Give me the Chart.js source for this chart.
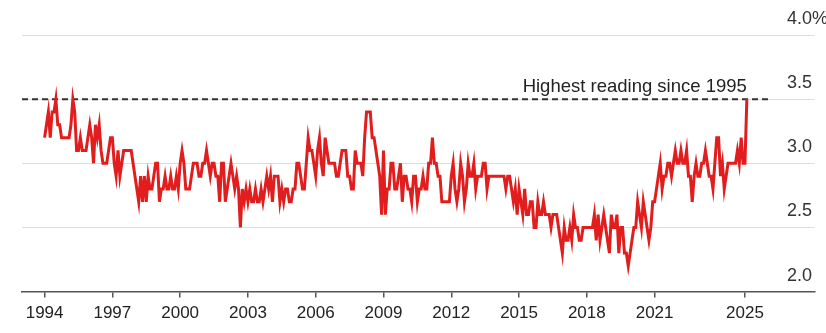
<!DOCTYPE html>
<html>
<head>
<meta charset="utf-8">
<script src="https://cdn.jsdelivr.net/npm/chart.js@4.4.1/dist/chart.umd.min.js"></script>
<style>
    html, body { margin: 0; padding: 0; background: #fff; }
    #box { width: 826px; height: 333px; }
</style>
</head>
<body>
<div id="box"><canvas id="expectChart"></canvas></div>
<script>
// Monthly readings, Jan 1994 onwards (percent)
const startYear = 1994;
const values1994to1999 = [
    3.2, 3.3, 3.4, 3.2, 3.4, 3.4, 3.5, 3.3, 3.3, 3.2, 3.2, 3.2,
    3.2, 3.2, 3.3, 3.5, 3.4, 3.1, 3.1, 3.2, 3.1, 3.1, 3.1, 3.2,
    3.3, 3.2, 3.0, 3.3, 3.2, 3.3, 3.1, 3.0, 3.0, 3.0, 3.1, 3.2,
    3.2, 3.0, 2.9, 3.1, 2.9, 3.0, 3.1, 3.1, 3.1, 3.1, 3.1, 3.0,
    2.9, 2.8, 2.7, 2.9, 2.7, 2.9, 2.7, 2.9, 2.8, 2.8, 2.9, 3.0,
    3.0, 2.7, 2.8, 2.8, 2.9, 2.8, 2.8, 2.9, 2.8, 2.8, 2.9, 2.8
];
const values2000to2004 = [
    3.0, 3.1, 3.0, 2.8, 2.8, 2.8, 2.9, 3.0, 3.0, 3.0, 2.9, 2.9,
    3.0, 3.0, 3.1, 3.0, 2.9, 3.0, 3.0, 2.9, 2.9, 2.7, 3.0, 3.0,
    2.7, 2.8, 2.9, 3.0, 2.9, 2.8, 2.9, 2.8, 2.5, 2.8, 2.7, 2.8,
    2.7, 2.8, 2.7, 2.7, 2.8, 2.7, 2.7, 2.8, 2.7, 2.8, 2.9, 2.8,
    2.9, 2.7, 2.9, 2.9, 2.9, 2.7, 2.8, 2.7, 2.8, 2.8, 2.7, 2.7
];
const values2005to2009 = [
    2.8, 2.8, 3.0, 3.0, 2.9, 2.8, 2.8, 3.0, 3.2, 3.1, 3.1, 3.0,
    2.9, 3.1, 3.2, 3.0, 2.9, 3.2, 3.1, 3.0, 3.0, 3.0, 3.0, 2.9,
    2.9, 3.0, 3.1, 3.1, 3.1, 2.9, 2.9, 2.8, 2.8, 3.1, 3.0, 3.0,
    3.0, 2.9, 3.2, 3.4, 3.4, 3.4, 3.2, 3.2, 3.1, 3.0, 2.9, 2.6,
    3.1, 2.6, 2.8, 2.8, 3.0, 3.0, 2.8, 2.8, 2.9, 3.0, 2.7, 2.9
];
const values2010to2014 = [
    2.9, 2.8, 2.8, 2.7, 2.9, 2.9, 2.7, 2.8, 2.8, 2.9, 2.8, 2.8,
    3.0, 3.0, 3.2, 3.0, 3.0, 2.9, 2.9, 2.7, 2.7, 2.7, 2.7, 2.7,
    2.9, 3.0, 2.8, 2.7, 2.8, 3.0, 2.9, 2.7, 2.8, 3.0, 2.9, 2.9,
    3.0, 2.8, 2.9, 2.9, 2.9, 3.0, 3.0, 2.8, 2.9, 2.9, 2.9, 2.9,
    2.9, 2.9, 2.9, 2.9, 2.9, 2.8, 2.9, 2.9, 2.8, 2.7, 2.8, 2.6
];
const values2015to2019 = [
    2.8, 2.7, 2.6, 2.8, 2.6, 2.6, 2.7, 2.7, 2.5, 2.5, 2.7, 2.6,
    2.6, 2.7, 2.6, 2.6, 2.6, 2.5, 2.6, 2.6, 2.6, 2.5, 2.4, 2.3,
    2.5, 2.4, 2.4, 2.5, 2.4, 2.6, 2.5, 2.5, 2.4, 2.4, 2.5, 2.5,
    2.5, 2.5, 2.5, 2.5, 2.6, 2.4, 2.6, 2.4, 2.5, 2.6, 2.5, 2.4,
    2.3, 2.6, 2.5, 2.5, 2.6, 2.3, 2.5, 2.5, 2.3, 2.3, 2.2, 2.3
];
const values2020to2025 = [
    2.4, 2.5, 2.5, 2.7, 2.6, 2.5, 2.7, 2.6, 2.5, 2.4, 2.5, 2.7,
    2.7, 2.8, 2.9, 3.0, 2.8, 2.9, 2.9, 3.0, 3.0, 2.9, 3.0, 3.1,
    3.0, 3.0, 3.1, 3.0, 3.0, 3.1, 2.9, 2.9, 2.7, 2.9, 3.0, 2.9,
    2.9, 3.0, 3.0, 3.1, 3.0, 2.9, 2.9, 2.8, 3.0, 3.2, 3.2, 2.9,
    3.0, 2.8, 2.9, 3.0, 3.0, 3.0, 3.0, 3.0, 3.1, 3.0, 3.2, 3.0,
    3.0, 3.5
];

// Axis ticks
const xTickYears = [1994, 1997, 2000, 2003, 2006, 2009, 2012, 2015, 2018, 2021, 2025];
const yTickValues = [2.0, 2.5, 3.0, 3.5, 4.0];

// Reference line
const highestReading = 3.5;
const highestLabel = "Highest reading since 1995";
const refLineEnd = 2026.1;

const xMin = 1993;
const xMax = 2028.1;

const allValues = [].concat(values1994to1999, values2000to2004, values2005to2009,
    values2010to2014, values2015to2019, values2020to2025);

const linePoints = allValues.map((v, i) => ({ x: startYear + i / 12, y: v }));
const lastPoint = linePoints[linePoints.length - 1];

// draws the "highest reading" note above the dashed line
const noteLabel = {
    id: "noteLabel",
    afterDatasetsDraw(chart) {
        const { ctx, scales } = chart;
        ctx.save();
        ctx.font = "18.5px 'Liberation Sans', Arial, sans-serif";
        ctx.fillStyle = "#222";
        ctx.textAlign = "right";
        ctx.textBaseline = "alphabetic";
        ctx.fillText(highestLabel, scales.x.getPixelForValue(lastPoint.x), scales.y.getPixelForValue(highestReading) - 7);
        ctx.restore();
    }
};

document.addEventListener("DOMContentLoaded", () => {
    const ctx = document.getElementById("expectChart").getContext("2d");

    new Chart(ctx, {
        type: "line",
        data: {
            datasets: [{
                data: linePoints,
                borderColor: "#e11d1d",
                borderWidth: 3,
                pointRadius: 0,
                tension: 0,
                order: 1
            }, {
                data: [{ x: xMin, y: highestReading }, { x: refLineEnd, y: highestReading }],
                borderColor: "#333",
                borderWidth: 2,
                borderDash: [6, 4],
                pointRadius: 0,
                order: 2
            }]
        },
        options: {
            responsive: true,
            maintainAspectRatio: false,
            animation: false,
            layout: { padding: { left: 22, right: 11, top: 35, bottom: 3 } },
            plugins: {
                legend: { display: false },
                tooltip: { enabled: false }
            },
            scales: {
                x: {
                    type: "linear",
                    min: xMin,
                    max: xMax,
                    afterBuildTicks: (scale) => {
                        scale.ticks = xTickYears.map(v => ({ value: v }));
                    },
                    grid: { drawOnChartArea: false, drawTicks: true, tickLength: 6, color: "#555", lineWidth: 1.5 },
                    border: { display: true, color: "#555", width: 1.5 },
                    ticks: {
                        autoSkip: false,
                        maxRotation: 0,
                        padding: 6,
                        color: "#222",
                        font: { family: "'Liberation Sans', Arial, sans-serif", size: 17 },
                        callback: (v) => String(v)
                    }
                },
                y: {
                    position: "right",
                    min: 2,
                    max: 4,
                    afterBuildTicks: (scale) => {
                        scale.ticks = yTickValues.map(v => ({ value: v }));
                    },
                    // labels sit inside the plot, so the axis takes no room
                    afterFit: (scale) => { scale.width = 0; },
                    grid: { drawTicks: false, color: "#dddddd", lineWidth: 1 },
                    border: { display: false },
                    ticks: {
                        mirror: true,
                        crossAlign: "far",
                        padding: 13,
                        labelOffset: -16,
                        color: "#333",
                        font: { family: "'Liberation Sans', Arial, sans-serif", size: 18 },
                        callback: (v) => v === 4 ? "4.0%" : v.toFixed(1)
                    }
                }
            }
        },
        plugins: [noteLabel]
    });
});
</script>
</body>
</html>
